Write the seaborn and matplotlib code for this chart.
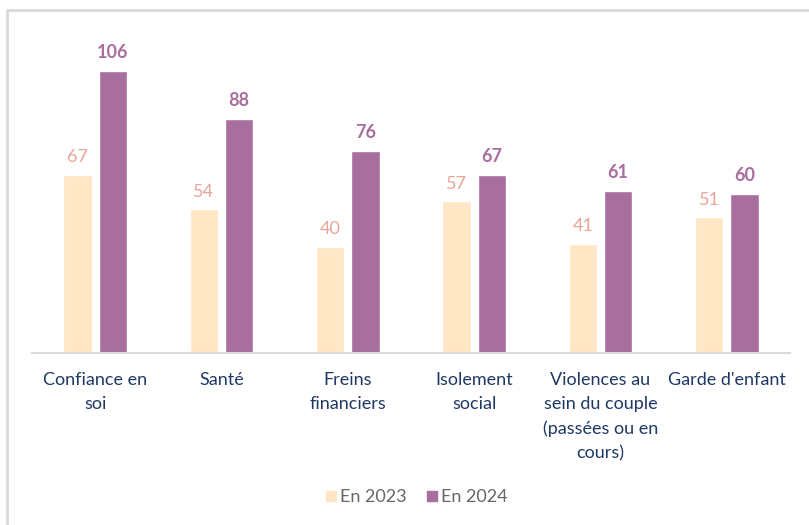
import pandas as pd
import seaborn as sns
from matplotlib import pyplot as plt
from matplotlib.lines import Line2D

categories = ["Confiance en\nsoi", "Santé", "Freins\nfinanciers", "Isolement\nsocial",
              "Violences au\nsein du couple\n(passées ou en\ncours)", "Garde d'enfant"]
values_2023 = [67, 54, 40, 57, 41, 51]
values_2024 = [106, 88, 76, 67, 61, 60]
series = ["En 2023", "En 2024"]

df = pd.DataFrame({
    "categorie": categories * 2,
    "valeur": values_2023 + values_2024,
    "annee": [series[0]] * len(categories) + [series[1]] * len(categories),
})

sns.set_style("white")
plt.rcParams['font.family'] = ['Lato', 'DejaVu Sans']

couleurs = {"En 2023": "#FFE6C4", "En 2024": "#A86E9E"}
couleurs_txt = {"En 2023": "#E8A598", "En 2024": "#A86E9E"}

fig = plt.figure(figsize=(8.09, 5.25), dpi=100)
ax = fig.add_axes([32 / 809, 1 - 353 / 525, (790 - 32) / 809, 319 / 525])

sns.barplot(data=df, x="categorie", y="valeur", hue="annee", order=categories,
            hue_order=series, palette=couleurs, width=0.56, gap=0.2, ax=ax,
            legend=False, saturation=1)

for cont, nom in zip(ax.containers, series):
    ax.bar_label(cont, padding=7, fontsize=13, color=couleurs_txt[nom],
                 fontweight="bold" if nom == "En 2024" else "normal")

ax.set_ylim(0, 120)
ax.set_xlim(-0.5, len(categories) - 0.5)
ax.set_yticks([])
ax.set_xlabel("")
ax.set_ylabel("")
for s in ["top", "right", "left"]:
    ax.spines[s].set_visible(False)
ax.spines["bottom"].set_color("#D9D9D9")
ax.spines["bottom"].set_linewidth(1.5)
ax.tick_params(axis="x", length=0, pad=14, labelsize=13, labelcolor="#1F3864")
for lab in ax.get_xticklabels():
    lab.set_verticalalignment("top")
    lab.set_linespacing(1.6)

handles = [Line2D([], [], marker="s", linestyle="", markersize=7.5,
                  color=couleurs[n]) for n in series]
fig.legend(handles, series, loc="center", bbox_to_anchor=(415 / 809, 1 - 497 / 525),
           ncol=2, frameon=False, fontsize=13, handletextpad=0.0,
           handlelength=1.0, columnspacing=0.9, labelcolor="#666666")

# cadre du graphique
fig.add_artist(Line2D([7 / 809, 7 / 809], [0, 1 - 10 / 525], color="#D9D9D9", lw=2))
fig.add_artist(Line2D([7 / 809, 1], [1 - 10 / 525, 1 - 10 / 525], color="#D9D9D9", lw=2))

fig.savefig("out.png", dpi=100)
